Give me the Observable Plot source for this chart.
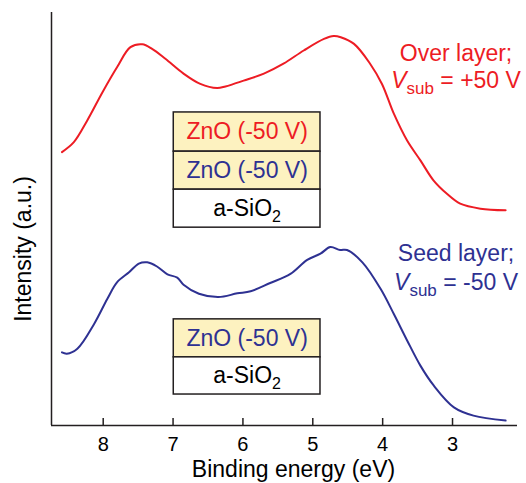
<!DOCTYPE html>
<html>
<head>
<meta charset="utf-8">
<script src="https://cdn.jsdelivr.net/npm/d3@7"></script>
<script src="https://cdn.jsdelivr.net/npm/@observablehq/plot@0.6"></script>
<style>
  html, body { margin: 0; padding: 0; background: #fff; }
  svg { font-family: "Liberation Sans", Arial, sans-serif; }
</style>
</head>
<body>
<div id="chart"></div>
<script>
// ---- data ----
const energyRed = [8.59, 8.42, 8.23, 8.01, 7.80, 7.61, 7.44, 7.30, 7.11, 6.85, 6.61, 6.37, 6.25, 5.99, 5.70, 5.42, 5.13, 4.84, 4.70, 4.60, 4.41, 4.18, 4.01, 3.84, 3.65, 3.46, 3.27, 3.08, 2.89, 2.60, 2.24];
const intensityRed = [66.2, 68.6, 73.8, 80.7, 86.8, 91.6, 92.3, 91.2, 88.8, 85.2, 82.7, 81.7, 82.1, 83.5, 85.2, 87.6, 90.8, 93.6, 94.3, 94.0, 92.4, 87.6, 82.7, 75.5, 69.0, 64.2, 59.3, 56.1, 53.7, 52.5, 52.1];

const energyBlue = [8.59, 8.52, 8.37, 8.13, 7.94, 7.80, 7.63, 7.49, 7.37, 7.23, 7.08, 6.94, 6.85, 6.63, 6.35, 6.08, 5.89, 5.61, 5.32, 5.08, 4.89, 4.75, 4.61, 4.51, 4.29, 4.03, 3.84, 3.65, 3.46, 3.27, 2.98, 2.70, 2.24];
const intensityBlue = [17.7, 17.4, 18.6, 24.6, 30.7, 34.7, 37.1, 39.2, 39.5, 38.5, 36.6, 35.8, 34.1, 31.9, 31.1, 32.0, 32.5, 34.5, 36.7, 40.1, 41.6, 43.2, 42.5, 42.5, 39.5, 33.1, 27.0, 20.6, 14.5, 9.7, 4.4, 2.4, 1.2];

const xTicks = [8, 7, 6, 5, 4, 3];
const xDomain = [8.74, 2.07];
const yDomain = [0, 100];

const seriesNames = ["Over layer;", "Seed layer;"];
const seriesBias = ["Vsub = +50 V", "Vsub = -50 V"];
const overStackLabels = ["ZnO (-50 V)", "ZnO (-50 V)", "a-SiO2"];
const seedStackLabels = ["ZnO (-50 V)", "a-SiO2"];

// ---- styles ----
const RED = "#ed1c24", BLUE = "#2e3192", INK = "#231f20", YELLOW = "#fdf2c0";

const red = energyRed.map((e, i) => ({e, v: intensityRed[i]}));
const blue = energyBlue.map((e, i) => ({e, v: intensityBlue[i]}));

// stacked layer boxes (annotation placement in data units)
const boxX1 = 6.99, boxX2 = 4.89;
const overEdges = [75.8, 66.3, 57.1, 47.9];
const seedEdges = [25.7, 16.5, 7.5];
const overRows = overStackLabels.map((label, i) => ({
  label, y1: overEdges[i + 1], y2: overEdges[i],
  fill: i < 2 ? YELLOW : "#ffffff",
  color: i === 0 ? RED : i === 1 ? BLUE : "#000000"
}));
const seedRows = seedStackLabels.map((label, i) => ({
  label, y1: seedEdges[i + 1], y2: seedEdges[i],
  fill: i < 1 ? YELLOW : "#ffffff",
  color: i === 0 ? BLUE : "#000000"
}));
const rows = overRows.concat(seedRows);

const sideLabels = [
  {text: seriesNames[0], v: 90.0, color: RED},
  {text: seriesBias[0], v: 83.5, color: RED},
  {text: seriesNames[1], v: 41.6, color: BLUE},
  {text: seriesBias[1], v: 34.5, color: BLUE}
];
const labelE = 2.95;

const W = 526, H = 483, mT = 12, mB = 58, mL = 51, mR = 9;

const chart = Plot.plot({
  width: W, height: H,
  marginTop: mT, marginBottom: mB, marginLeft: mL, marginRight: mR,
  x: {domain: xDomain, axis: null},
  y: {domain: yDomain, axis: null},
  style: {background: "#fff", fontFamily: "'Liberation Sans', Arial, sans-serif"},
  marks: [
    Plot.ruleY([yDomain[0]], {stroke: INK, strokeWidth: 1.5}),
    Plot.ruleX([xDomain[0]], {stroke: INK, strokeWidth: 1.5}),
    Plot.tickX(xTicks, {x: d => d, stroke: INK, strokeWidth: 1.5, insetTop: (H - mT - mB) - 7}),
    Plot.axisX({ticks: xTicks, tickFormat: d3.format("d"), tickSize: 0, tickPadding: 11, fontSize: 20, label: null, fill: "#000"}),
    Plot.text(["Binding energy (eV)"], {frameAnchor: "bottom", dx: 9, dy: 51, fontSize: 23, fill: "#000"}),
    Plot.text(["Intensity (a.u.)"], {frameAnchor: "left", textAnchor: "middle", rotate: -90, dx: -28, dy: 30, fontSize: 23, fill: "#000"}),
    Plot.line(red, {x: "e", y: "v", stroke: RED, strokeWidth: 2, curve: "catmull-rom"}),
    Plot.line(blue, {x: "e", y: "v", stroke: BLUE, strokeWidth: 2, curve: "catmull-rom"}),
    Plot.rect(rows, {x1: () => boxX1, x2: () => boxX2, y1: "y1", y2: "y2", fill: d => d.fill, stroke: INK, strokeWidth: 1.5}),
    Plot.text(rows, {x: () => (boxX1 + boxX2) / 2, y: d => (d.y1 + d.y2) / 2, text: "label", fill: d => d.color, fontSize: 23}),
    Plot.text(sideLabels, {x: () => labelE, y: "v", text: "text", fill: d => d.color, fontSize: 23})
  ]
});

// subscripts / italics as real text
d3.select(chart).selectAll("text").each(function() {
  const t = this.textContent;
  if (t === "a-SiO2") {
    this.textContent = "";
    const s = d3.select(this);
    s.append("tspan").text("a-SiO");
    s.append("tspan").attr("dy", 6).attr("font-size", 16).text("2");
  } else if (t.startsWith("Vsub")) {
    const rest = t.slice(4);
    this.textContent = "";
    const s = d3.select(this);
    s.append("tspan").attr("font-style", "italic").text("V");
    s.append("tspan").attr("dy", 6).attr("font-size", 17).text("sub");
    s.append("tspan").attr("dy", -6).text(rest);
  }
});

document.getElementById("chart").appendChild(chart);
</script>
</body>
</html>
